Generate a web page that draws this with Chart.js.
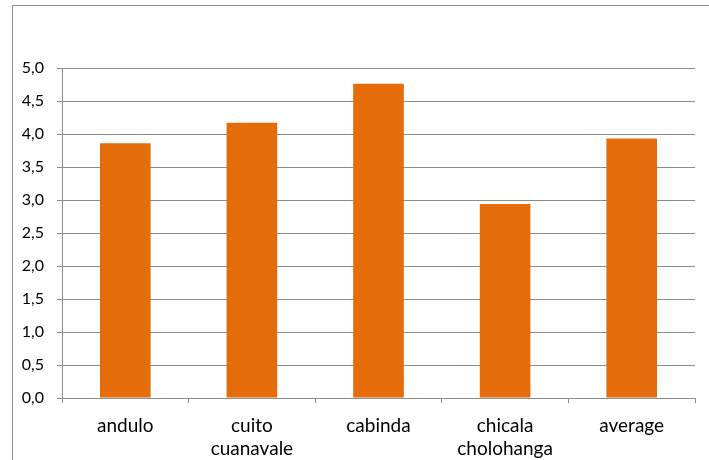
<!DOCTYPE html>
<html>
<head>
<meta charset="utf-8">
<script src="https://cdn.jsdelivr.net/npm/chart.js@4/dist/chart.umd.min.js"></script>
<style>
  html, body { margin: 0; padding: 0; background: #fff; overflow: hidden; }
  #wrap { position: relative; width: 709px; height: 460px; }
  #frame {
    position: absolute; left: 12px; top: 5px; width: 720px; height: 480px;
    border-left: 1px solid #8e8e8e; border-top: 1px solid #8e8e8e;
    pointer-events: none;
  }
</style>
</head>
<body>
<div id="wrap">
  <canvas id="chart" width="709" height="460"></canvas>
  <div id="frame"></div>
</div>
<script>
// Chart data
const categories = ['andulo', ['cuito', 'cuanavale'], 'cabinda', ['chicala', 'cholohanga'], 'average'];
const values = [3.86, 4.17, 4.76, 2.94, 3.93];
const yTicks = [0, 0.5, 1, 1.5, 2, 2.5, 3, 3.5, 4, 4.5, 5];

const barColor = '#E46C0A';
const gridColor = '#8c8c8c';

// Format axis numbers with a decimal comma
const formatTick = v => v.toFixed(1).replace('.', ',');

new Chart(document.getElementById('chart').getContext('2d'), {
  type: 'bar',
  data: {
    labels: categories,
    datasets: [{
      data: values,
      backgroundColor: barColor,
      borderWidth: 0,
      barPercentage: 1,
      categoryPercentage: 0.4
    }]
  },
  options: {
    responsive: false,
    animation: false,
    layout: { padding: { top: 68, right: 14, bottom: 0, left: 0 } },
    plugins: {
      legend: { display: false },
      tooltip: { enabled: false }
    },
    scales: {
      x: {
        afterFit: scale => { scale.height = 62; },
        grid: {
          offset: true,
          drawOnChartArea: false,
          drawTicks: true,
          tickLength: 5,
          color: gridColor
        },
        border: { color: gridColor },
        ticks: {
          color: '#000',
          padding: 11,
          maxRotation: 0,
          autoSkip: false,
          font: { family: 'Lato', size: 19, lineHeight: 1.21 }
        }
      },
      y: {
        min: 0,
        max: 5,
        afterFit: scale => { scale.width = 62; },
        afterBuildTicks: scale => { scale.ticks = yTicks.map(v => ({ value: v })); },
        grid: { color: gridColor, tickLength: 5 },
        border: { color: gridColor },
        ticks: {
          color: '#000',
          padding: 13,
          callback: v => formatTick(v),
          font: { family: 'Lato', size: 16 }
        }
      }
    }
  }
});
</script>
</body>
</html>
